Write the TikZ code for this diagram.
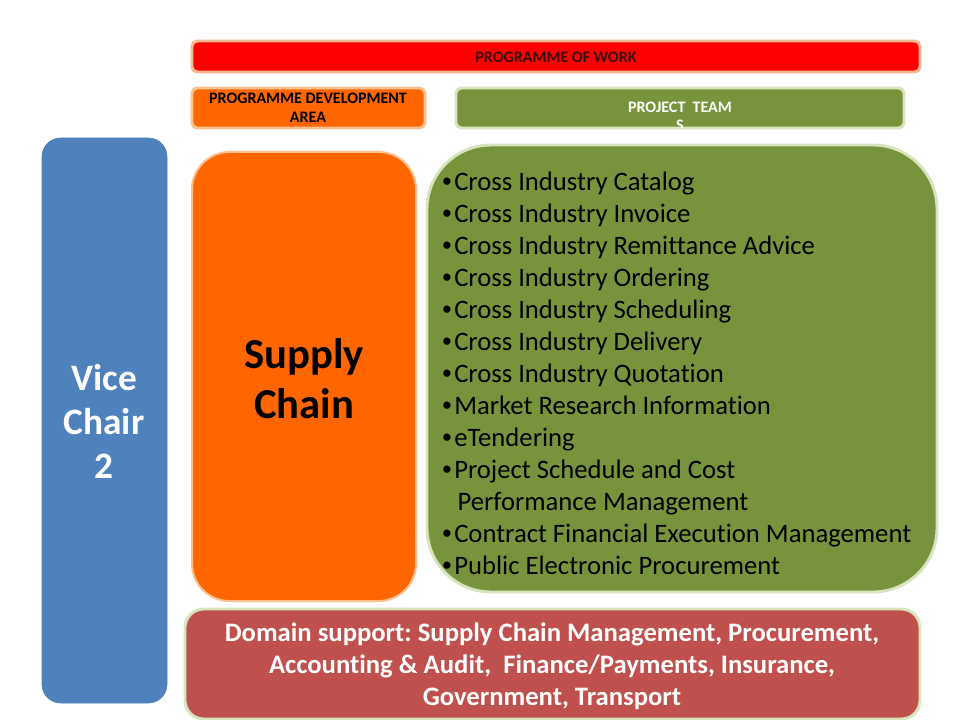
\documentclass[tikz,border=0pt]{standalone}
\usepackage{fontspec}
\setmainfont{Carlito}[Ligatures={NoCommon}]
\newfontfamily\bulfont{Liberation Sans}
\newcommand\bul{{\bulfont •}\hspace{2pt}}
\definecolor{cRed}{HTML}{FF0000}
\definecolor{cOrange}{HTML}{FF6600}
\definecolor{cGreen}{HTML}{77933C}
\definecolor{cBlue}{HTML}{4F81BD}
\definecolor{cBrick}{HTML}{C0504D}
\definecolor{bSalmon}{HTML}{F8B890}
\definecolor{bPeach}{HTML}{FAC090}
\definecolor{bLightGreen}{HTML}{D7E4BD}
\definecolor{tDark}{HTML}{3A0A0A}
\tikzset{
  box/.style={rounded corners=#1, line width=2.2pt},
  box/.default=6pt,
  lbl/.style={inner sep=0pt, align=center, font=\bfseries},
}
\begin{document}
\frenchspacing
\begin{tikzpicture}[x=0.75pt,y=-0.75pt]
\useasboundingbox[fill=white] (0,0) rectangle (960,720);
% boxes
\draw[box=4pt, fill=cRed, draw=bSalmon] (192,41) rectangle (920,72);
\node[lbl, text=tDark, font=\bfseries\fontsize{12}{14}\selectfont] (pow) at (556,57) {PROGRAMME OF WORK};

\draw[box=4pt, fill=cOrange, draw=bPeach] (192,88) rectangle (425,128);
\node[lbl, text=black, font=\bfseries\fontsize{12}{14.25}\selectfont] (pda) at (308,108) {PROGRAMME DEVELOPMENT\\AREA};

\draw[box=4pt, fill=cGreen, draw=bLightGreen] (456,88) rectangle (904,128);
\begin{scope}
\clip (456,88) rectangle (904,128);
\node[lbl, text=white, font=\bfseries\fontsize{12}{13}\selectfont, anchor=north] (pt) at (680,102) {PROJECT\ \ TEAM\\S};
\end{scope}

\draw[box=14pt, fill=cBlue, draw=cBlue, line width=0.5pt] (42,138) rectangle (167,703);
\node[lbl, text=white, font=\bfseries\fontsize{28}{33}\selectfont] (vc) at (104,421) {Vice\\Chair\\2};

\draw[box=28pt, fill=cOrange, draw=bPeach, line width=1.5pt] (192,152) rectangle (416,601);
\node[lbl, text=black, font=\bfseries\fontsize{32}{37.5}\selectfont] (sc) at (304,379) {Supply\\Chain};

\draw[box=48pt, fill=cGreen, draw=bLightGreen] (427,145) rectangle (937,592);
\node[inner sep=0pt, align=left, anchor=north west, text=black, font=\fontsize{20}{24}\selectfont] (list) at (442,172) {%
\bul Cross Industry Catalog\\
\bul Cross Industry Invoice\\
\bul Cross Industry Remittance Advice\\
\bul Cross Industry Ordering\\
\bul Cross Industry Scheduling\\
\bul Cross Industry Delivery\\
\bul Cross Industry Quotation\\
\bul Market Research Information\\
\bul eTendering\\
\bul Project Schedule and Cost\\
\hphantom{\bul}\hspace{2.5pt}Performance Management\\
\bul Contract Financial Execution Management\\
\bul Public Electronic Procurement};

\draw[box=14pt, fill=cBrick, draw=bLightGreen] (185,609) rectangle (920,719);
\node[lbl, text=white, font=\bfseries\fontsize{20}{24}\selectfont] (ds) at (552,666) {Domain support: Supply Chain Management, Procurement,\\Accounting \& Audit,\ \ Finance/Payments, Insurance,\\Government, Transport};
\end{tikzpicture}
\end{document}
